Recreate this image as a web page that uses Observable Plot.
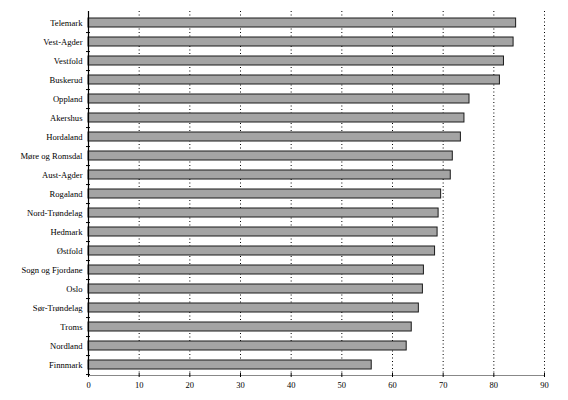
<!DOCTYPE html>
<html><head><meta charset="utf-8">
<script src="https://cdn.jsdelivr.net/npm/d3@7"></script>
<script src="https://cdn.jsdelivr.net/npm/@observablehq/plot@0.6"></script>
<style>body{margin:0;background:#fff}</style>
</head><body><div id="chart"></div>
<script>
const counties = ["Telemark","Vest-Agder","Vestfold","Buskerud","Oppland","Akershus","Hordaland","Møre og Romsdal","Aust-Agder","Rogaland","Nord-Trøndelag","Hedmark","Østfold","Sogn og Fjordane","Oslo","Sør-Trøndelag","Troms","Nordland","Finnmark"];
const values = [84.4,83.9,82.0,81.2,75.2,74.2,73.5,71.9,71.5,69.6,69.1,68.9,68.4,66.2,66.0,65.2,63.8,62.8,55.9];
const xTicks = [0,10,20,30,40,50,60,70,80,90];
const data = counties.map((c, i) => ({county: c, value: values[i]}));
const chart = Plot.plot({
  width: 568, height: 400,
  marginLeft: 88, marginRight: 24, marginTop: 11, marginBottom: 25,
  style: {fontFamily: "'Liberation Serif', 'Times New Roman', serif", background: "#fff", color: "#000"},
  x: {domain: [0, 90]},
  y: {domain: counties, paddingInner: 0.53, paddingOuter: 0.265},
  marks: [
    Plot.gridX(xTicks.slice(1), {stroke: "#000", strokeOpacity: 1, strokeDasharray: "1,2.5"}),
    Plot.barX(data, {x: "value", y: "county", fill: "#a4a4a4", stroke: "#1a1a1a", strokeWidth: 1}),
    Plot.ruleX([0], {stroke: "#000", strokeWidth: 1.2}),
    Plot.frame({anchor: "bottom", stroke: "#888"}),
    Plot.axisX(xTicks, {text: null, tickSize: 4, dy: -2, label: null}),
    Plot.axisX(xTicks, {tickSize: 0, tickPadding: 6, fontSize: 8.5, label: null}),
    Plot.axisY({tickSize: 0, tickPadding: 6, fontSize: 8.6, label: null}),
    Plot.axisY({text: null, tickSize: 4, dx: 2, dy: 9.55, label: null})
  ]
});
document.getElementById("chart").append(chart);
</script>
</body></html>
